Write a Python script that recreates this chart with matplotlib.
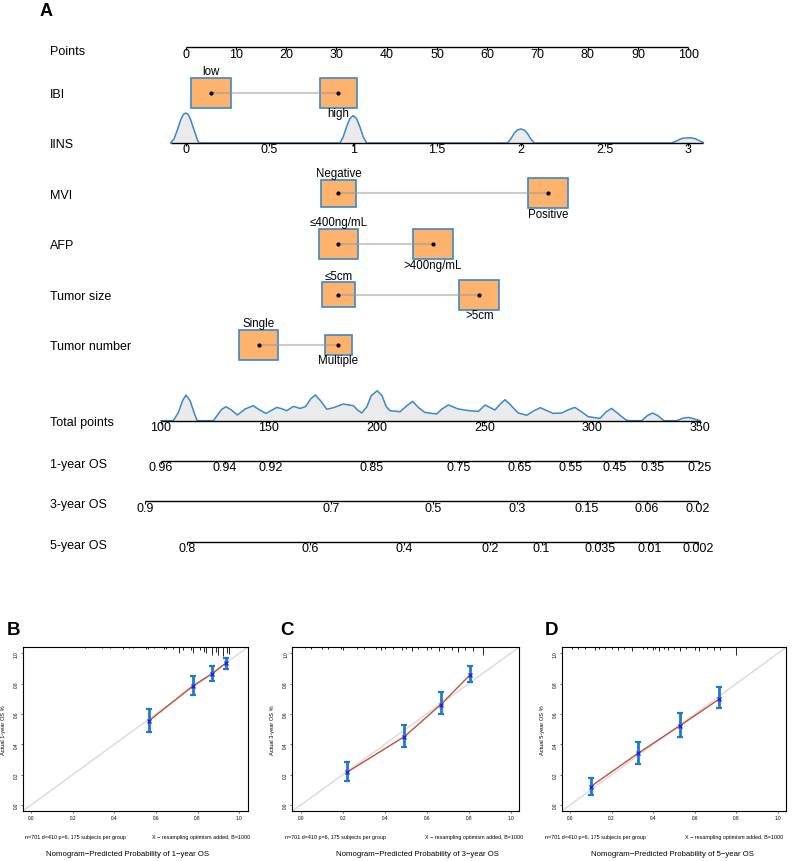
import matplotlib
matplotlib.use("Agg")
import matplotlib.pyplot as plt
from matplotlib.patches import Rectangle

plt.rcParams['font.family'] = ['Liberation Sans', 'DejaVu Sans']

# ---------------- nomogram data ----------------
points_ticks = list(range(0, 101, 10))

ibi_levels = ['low', 'high']
ibi_points = [5.0, 30.4]
ibi_box = [1.0, 0.96]

mvi_levels = ['Negative', 'Positive']
mvi_points = [30.4, 72.1]
mvi_box = [0.9, 1.0]

afp_levels = ['\u2264400ng/mL', '>400ng/mL']
afp_points = [30.4, 49.2]
afp_box = [1.0, 1.0]

size_levels = ['\u22645cm', '>5cm']
size_points = [30.4, 58.4]
size_box = [0.82, 1.0]

number_levels = ['Single', 'Multiple']
number_points = [14.5, 30.4]
number_box = [1.0, 0.66]

# IINS: continuous, 0..3 maps onto 0..100 points
iins_ticks = [0, 0.5, 1, 1.5, 2, 2.5, 3]
iins_tick_labels = ['0', '0.5', '1', '1.5', '2', '2.5', '3']
iins_pts_per_unit = 100 / 3
iins_dens_x = [-0.09, -0.07, -0.05, -0.03, -0.015, 0, 0.015, 0.03, 0.05, 0.07, 0.08,
               0.92, 0.94, 0.96, 0.98, 1.0, 1.02, 1.04, 1.06, 1.08,
               1.92, 1.94, 1.96, 1.98, 2.0, 2.02, 2.04, 2.06, 2.08,
               2.9, 2.93, 2.96, 3.0, 3.04, 3.07, 3.09]
iins_dens_y = [0, 4, 13, 23, 28.5, 30, 28.5, 23, 13, 3, 0,
               0, 6, 16, 24.5, 27.3, 24.5, 16, 6, 0,
               0, 4, 9.5, 13, 14, 13, 9.5, 4, 0,
               0, 2, 4.5, 5.3, 4.5, 2, 0.5]

# total points axis and its density
total_ticks = [100, 150, 200, 250, 300, 350]
total_dens_x = [100, 105.7, 108, 110, 111.6, 113.5, 115.5, 116.8, 124.3, 126, 128, 130.1,
                132.5, 135.4, 137.5, 139, 142.8, 145.5, 148.7, 151, 153.7, 156, 158.3,
                161.4, 164.5, 167, 169.5, 171.6, 174, 176.9, 180, 184.6, 189.2, 191,
                193.1, 195.5, 197.5, 200.3, 202.5, 204.5, 206.2, 210.9, 214, 216.7,
                219.5, 222.4, 227.9, 230.5, 233.3, 237.9, 243, 247.2, 250.3, 254.9,
                257.5, 259.6, 262, 265.7, 269.6, 273, 276, 279, 282, 285.9, 289, 292,
                295, 298.2, 303.6, 306.5, 309, 312, 315.7, 317, 323, 325.5, 328, 330.5,
                333.3, 339.2, 342, 344.6, 347, 350]
total_dens_y = [0, 0, 8, 20, 25.7, 20, 7, 0, 0, 5, 11, 14,
                11, 5.7, 9, 11.7, 15, 11, 7.3, 10, 13.3, 12, 10,
                14.3, 12.3, 14, 22, 25.7, 20, 11.5, 13, 16.7, 15, 11,
                7.7, 14, 25, 30, 25, 14, 10, 9, 15, 19.3,
                13, 8.3, 6.7, 12, 15.7, 11.7, 10, 9.3, 15.7, 10.7,
                17, 21, 16, 7.7, 5.5, 10, 13, 10, 7.3, 7.7, 11, 13.3,
                9, 4, 2.3, 9, 12.3, 7, 0.7, 0, 0, 5, 7.7, 5,
                0, 0, 2.5, 3.3, 2, 0]

# survival scales: tick labels and their position in total points
os1_labels = ['0.96', '0.94', '0.92', '0.85', '0.75', '0.65', '0.55', '0.45', '0.35', '0.25']
os1_total = [100, 129.5, 150.7, 197.7, 238.2, 266.5, 290, 310.5, 328, 349.7]
os3_labels = ['0.9', '0.7', '0.5', '0.3', '0.15', '0.06', '0.02']
os3_total = [92.6, 178.9, 226, 265, 297.4, 325.2, 348.9]
os5_labels = ['0.8', '0.6', '0.4', '0.2', '0.1', '0.035', '0.01', '0.002']
os5_total = [112.1, 169, 212.7, 252.5, 276.5, 303.6, 326.5, 349.2]

# ---------------- calibration data ----------------
pred1 = [0.566, 0.779, 0.869, 0.934]
obs1 = [0.554, 0.787, 0.864, 0.934]
lo1 = [0.479, 0.725, 0.820, 0.897]
hi1 = [0.633, 0.853, 0.919, 0.967]
rug1 = [0.26, 0.34, 0.38, 0.44, 0.47, 0.49, 0.55, 0.56, 0.59, 0.64, 0.65, 0.68, 0.71,
        0.73, 0.77, 0.78, 0.81, 0.83, 0.84, 0.87, 0.89, 0.90, 0.92, 0.94, 0.95]
rug1_h = [0.005, 0.008, 0.008, 0.01, 0.008, 0.006, 0.012, 0.01, 0.008, 0.014, 0.01, 0.012,
          0.035, 0.02, 0.02, 0.04, 0.02, 0.03, 0.04, 0.05, 0.03, 0.05, 0.055, 0.04, 0.045]

pred3 = [0.219, 0.494, 0.667, 0.806]
obs3 = [0.215, 0.451, 0.662, 0.857]
lo3 = [0.156, 0.380, 0.600, 0.813]
hi3 = [0.281, 0.530, 0.743, 0.914]
rug3 = [0.02, 0.05, 0.10, 0.13, 0.19, 0.20, 0.27, 0.30, 0.36, 0.38, 0.40, 0.44, 0.48,
        0.50, 0.53, 0.56, 0.60, 0.62, 0.66, 0.68, 0.72, 0.75, 0.78, 0.82, 0.867]
rug3_h = [0.008, 0.012, 0.01, 0.015, 0.012, 0.02, 0.01, 0.015, 0.012, 0.02, 0.015, 0.01, 0.02,
          0.012, 0.025, 0.015, 0.02, 0.012, 0.025, 0.015, 0.02, 0.03, 0.02, 0.025, 0.05]

pred5 = [0.099, 0.327, 0.529, 0.718]
obs5 = [0.121, 0.341, 0.523, 0.699]
lo5 = [0.068, 0.270, 0.451, 0.637]
hi5 = [0.176, 0.418, 0.607, 0.780]
rug5 = [0.01, 0.04, 0.07, 0.12, 0.14, 0.17, 0.20, 0.23, 0.26, 0.30, 0.35, 0.37, 0.40,
        0.41, 0.43, 0.45, 0.47, 0.50, 0.53, 0.56, 0.60, 0.62, 0.66, 0.69, 0.72, 0.80]
rug5_h = [0.012, 0.015, 0.01, 0.02, 0.012, 0.015, 0.01, 0.02, 0.012, 0.025, 0.015, 0.012,
          0.02, 0.012, 0.025, 0.015, 0.02, 0.012, 0.025, 0.015, 0.02, 0.025, 0.015, 0.02,
          0.02, 0.05]

# ---------------- figure ----------------
W, H = 793, 862
fig = plt.figure(figsize=(W / 100, H / 100), dpi=100)

PX = 5.026          # pixels per point on the Points scale
X0 = 185.7          # pixel x of 0 points
NOMO_H = 600
ax = fig.add_axes([0, 1 - NOMO_H / H, 1, NOMO_H / H])
ax.set_xlim(-X0 / PX, (W - X0) / PX)
ax.set_ylim(NOMO_H, 0)
ax.axis('off')

FS = 9
FS_CAT = 8.3
LABEL_X = 50 / PX - X0 / PX
BOX_W = 39.5 / PX
BOX_H = 30.3
box_face = '#FDB26E'
box_edge = '#3A88C8'
dens_face = '#EBEBEB'
dens_line = '#3A88C8'

# total points -> position on the Points scale
tp_lo = (161 - X0) / PX
tp_hi = (700 - X0) / PX


def tp_to_x(t):
    return tp_lo + (t - 100) * (tp_hi - tp_lo) / 250


def draw_scale(y, xs, labels, x_from=None, x_to=None):
    x_from = xs[0] if x_from is None else x_from
    x_to = xs[-1] if x_to is None else x_to
    ax.plot([x_from, x_to], [y, y], color='black', lw=1.0, solid_capstyle='butt', zorder=3)
    ax.vlines(xs, y, y + 3, color='black', lw=0.8, zorder=3)
    for x, lab in zip(xs, labels):
        ax.text(x, y + 0.5, lab, ha='center', va='top', fontsize=FS)


def row_label(y, text):
    ax.text(LABEL_X, y + 1.5, text, ha='left', va='center', fontsize=FS)


ax.text(LABEL_X - 10 / PX, 3, 'A', ha='left', va='top', fontsize=13, fontweight='bold')

# Points scale
y_points = 48.3
row_label(y_points + 2, 'Points')
draw_scale(y_points, points_ticks, [str(p) for p in points_ticks])

# categorical rows
cat_rows = [
    ('IBI', 94.0, ibi_levels, ibi_points, ibi_box),
    ('MVI', 194.3, mvi_levels, mvi_points, mvi_box),
    ('AFP', 245.0, afp_levels, afp_points, afp_box),
    ('Tumor size', 295.7, size_levels, size_points, size_box),
    ('Tumor number', 346.0, number_levels, number_points, number_box),
]
for name, y, levels, pts, sizes in cat_rows:
    row_label(y, name)
    ax.plot([min(pts), max(pts)], [y, y], color='#999999', alpha=0.5, lw=1.5, zorder=4)
    for i, (lev, p, s) in enumerate(zip(levels, pts, sizes)):
        w, h = BOX_W * s, BOX_H * s
        ax.add_patch(Rectangle((p - w / 2, y - h / 2), w, h, facecolor=box_face,
                               edgecolor=box_edge, lw=1.2, zorder=2))
        ax.plot(p, y, 'o', color='black', ms=2, zorder=5)
        if i % 2 == 0:
            ax.text(p, y - h / 2 - 0.5, lev, ha='center', va='bottom', fontsize=FS_CAT)
        else:
            ax.text(p, y + h / 2 - 0.5, lev, ha='center', va='top', fontsize=FS_CAT)

# IINS with density
y_iins = 144.0
row_label(y_iins, 'IINS')
dx = [v * iins_pts_per_unit for v in iins_dens_x]
dy = [y_iins - d for d in iins_dens_y]
ax.fill_between(dx, dy, y_iins, color=dens_face, lw=0, zorder=1)
ax.plot(dx, dy, color=dens_line, lw=1.1, zorder=2)
draw_scale(y_iins, [v * iins_pts_per_unit for v in iins_ticks], iins_tick_labels,
           x_from=dx[0], x_to=dx[-1])

# Total points with density
y_total = 421.7
row_label(y_total, 'Total points')
tx = [tp_to_x(t) for t in total_dens_x]
ty = [y_total - d for d in total_dens_y]
ax.fill_between(tx, ty, y_total, color=dens_face, lw=0, zorder=1)
ax.plot(tx, ty, color=dens_line, lw=1.1, zorder=2)
draw_scale(y_total, [tp_to_x(t) for t in total_ticks], [str(t) for t in total_ticks])

# survival scales
for name, y, labels, tps in [('1-year OS', 461.7, os1_labels, os1_total),
                             ('3-year OS', 502.3, os3_labels, os3_total),
                             ('5-year OS', 542.7, os5_labels, os5_total)]:
    row_label(y + 1.5, name)
    draw_scale(y, [tp_to_x(t) for t in tps], labels)

# ---------------- calibration panels ----------------
panels = [
    ('B', '1', pred1, obs1, lo1, hi1, rug1, rug1_h),
    ('C', '3', pred3, obs3, lo3, hi3, rug3, rug3_h),
    ('D', '5', pred5, obs5, lo5, hi5, rug5, rug5_h),
]
cal_left = [22.7, 292.3, 561.7]
cal_width = [224.9, 226.8, 224.6]
letter_x = [7, 280, 545]
sub_left_x = [25, 285, 545]
sub_right_x = [250.7, 523, 783.3]
xlab_x = [127.5, 418, 672.5]
cal_bottom = 812.1
cal_height = 163.9

for k, (letter, yr, pred, obs, lo, hi, rug, rug_h) in enumerate(panels):
    cax = fig.add_axes([cal_left[k] / W, (H - cal_bottom) / H,
                        cal_width[k] / W, cal_height / H])
    cax.set_xlim(-0.04, 1.04)
    cax.set_ylim(-0.04, 1.04)
    cax.plot([-0.04, 1.04], [-0.04, 1.04], color='#D9D9D9', lw=1.0, zorder=1)
    cax.plot(pred, obs, color='#C44E3C', lw=1.0, zorder=2)
    yerr = [[o - l for o, l in zip(obs, lo)], [h - o for o, h in zip(obs, hi)]]
    cax.errorbar(pred, obs, yerr=yerr, fmt='none', ecolor='#1F7BC8', elinewidth=2.0,
                 capsize=2.2, capthick=1.6, zorder=3)
    cax.plot(pred, obs, 'x', color='#2020FF', ms=3, mew=1.0, zorder=4)
    cax.vlines(rug, [1.04 - h for h in rug_h], 1.04, color='black', lw=0.6, zorder=2)
    ticks = [0, 0.2, 0.4, 0.6, 0.8, 1.0]
    cax.set_xticks(ticks)
    cax.set_yticks(ticks)
    cax.set_xticklabels(['%.1f' % t for t in ticks])
    cax.set_yticklabels(['%.1f' % t for t in ticks], rotation=90, va='center')
    cax.tick_params(labelsize=3.4, length=1.5, width=0.5, pad=1.5, color='#333333')
    for sp in cax.spines.values():
        sp.set_linewidth(0.8)
    cax.set_ylabel('Actual %s-year OS %%' % yr, fontsize=4.1)
    cax.yaxis.set_label_coords(-0.075, 0.5)

    fig.text(letter_x[k] / W, 1 - 622 / H, letter, ha='left', va='top',
             fontsize=13.5, fontweight='bold')
    fig.text(sub_left_x[k] / W, 1 - 838 / H, 'n=701 d=410 p=6, 175 subjects per group',
             ha='left', va='center', fontsize=3.85)
    fig.text(sub_right_x[k] / W, 1 - 838 / H, 'X \u2212 resampling optimism added, B=1000',
             ha='right', va='center', fontsize=3.85)
    fig.text(xlab_x[k] / W, 1 - 855 / H,
             'Nomogram\u2212Predicted Probability of %s\u2212year OS' % yr,
             ha='center', va='center', fontsize=5.6)

fig.savefig('out.png', dpi=100)
plt.close(fig)
